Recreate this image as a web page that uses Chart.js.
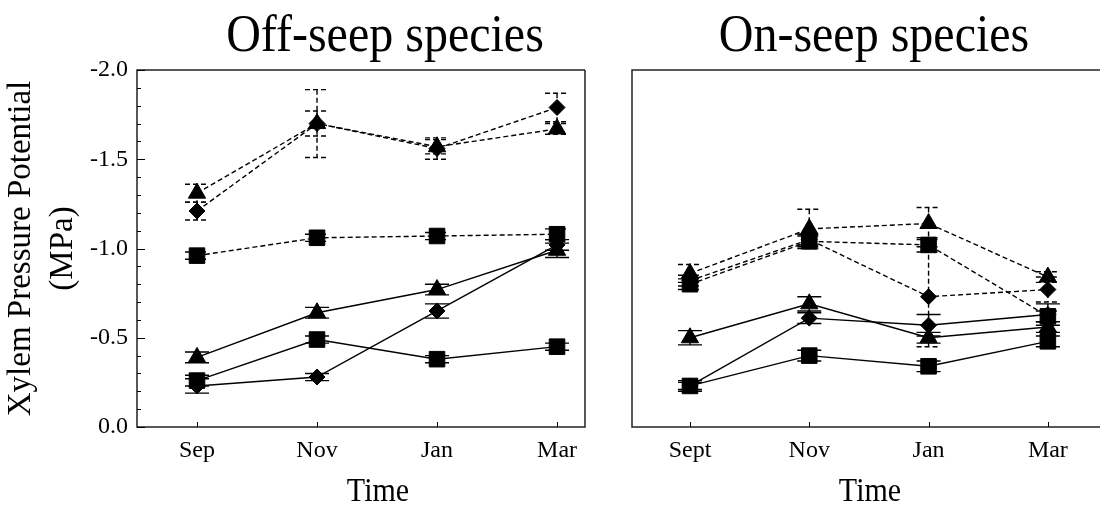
<!DOCTYPE html>
<html>
<head>
<meta charset="utf-8">
<title>Xylem Pressure Potential</title>
<script src="https://cdn.jsdelivr.net/npm/chart.js@4.4.1/dist/chart.umd.min.js"></script>
<style>
  html, body { margin: 0; padding: 0; background: #fff; overflow: hidden; }
  body { width: 1100px; height: 507px; position: relative; font-family: 'Liberation Serif', 'Times New Roman', serif; color: #000; }
  canvas { position: absolute; top: 0; }
  #offChart { left: 0; }
  #onChart { left: 600px; }
  .label { position: absolute; white-space: nowrap; line-height: 1; transform: translate(-50%, -50%) scaleY(1.1); }
  .heading { font-size: 48px; top: 33px; }
  .axis-title { font-size: 30px; top: 490px; }
</style>
</head>
<body>
<div class="label heading" style="left:385px">Off-seep species</div>
<div class="label heading" style="left:874px">On-seep species</div>
<canvas id="offChart" width="600" height="507"></canvas>
<canvas id="onChart" width="500" height="507"></canvas>
<div class="label axis-title" style="left:378px">Time</div>
<div class="label axis-title" style="left:870px">Time</div>

<script>
// ── Data ─────────────────────────────────────────────────────────
const offMonths = ['Sep', 'Nov', 'Jan', 'Mar'];
const onMonths  = ['Sept', 'Nov', 'Jan', 'Mar'];

// Off-seep species (MPa), mean and error
const offTriDashed    = [-1.31, -1.70, -1.57, -1.67];
const offTriDashedErr = [0.05, 0.07, 0.04, 0.03];
const offDiaDashed    = [-1.21, -1.70, -1.56, -1.79];
const offDiaDashedErr = [0.05, 0.19, 0.06, 0.08];
const offSqDashed     = [-0.96, -1.06, -1.07, -1.08];
const offSqDashedErr  = [0.02, 0.02, 0.02, 0.03];
const offTriSolid     = [-0.39, -0.64, -0.77, -0.99];
const offTriSolidErr  = [0.03, 0.03, 0.03, 0.04];
const offSqSolid      = [-0.26, -0.49, -0.38, -0.45];
const offSqSolidErr   = [0.03, 0.02, 0.02, 0.02];
const offDiaSolid     = [-0.23, -0.28, -0.65, -1.02];
const offDiaSolidErr  = [0.04, 0.02, 0.04, 0.03];

// On-seep species (MPa), mean and error
const onTriDashed    = [-0.86, -1.11, -1.14, -0.84];
const onTriDashedErr = [0.05, 0.11, 0.09, 0.03];
const onSqDashed     = [-0.80, -1.04, -1.02, -0.62];
const onSqDashedErr  = [0.03, 0.03, 0.04, 0.03];
const onDiaDashed    = [-0.82, -1.05, -0.73, -0.77];
const onDiaDashedErr = [0.03, 0.03, 0.28, 0.07];
const onTriSolid     = [-0.50, -0.69, -0.50, -0.56];
const onTriSolidErr  = [0.04, 0.04, 0.03, 0.03];
const onDiaSolid     = [-0.23, -0.61, -0.57, -0.63];
const onDiaSolidErr  = [0.02, 0.03, 0.06, 0.06];
const onSqSolid      = [-0.23, -0.40, -0.34, -0.48];
const onSqSolidErr   = [0.03, 0.03, 0.03, 0.03];

const yMin = -2.0, yMax = 0.0, yStep = 0.5, yMinorStep = 0.1;

const offSeries = [
  { values: offTriDashed, errors: offTriDashedErr, marker: 'triangle', dashed: true },
  { values: offDiaDashed, errors: offDiaDashedErr, marker: 'rectRot',  dashed: true },
  { values: offSqDashed,  errors: offSqDashedErr,  marker: 'rect',     dashed: true },
  { values: offTriSolid,  errors: offTriSolidErr,  marker: 'triangle', dashed: false },
  { values: offSqSolid,   errors: offSqSolidErr,   marker: 'rect',     dashed: false },
  { values: offDiaSolid,  errors: offDiaSolidErr,  marker: 'rectRot',  dashed: false },
];

const onSeries = [
  { values: onTriDashed, errors: onTriDashedErr, marker: 'triangle', dashed: true },
  { values: onSqDashed,  errors: onSqDashedErr,  marker: 'rect',     dashed: true },
  { values: onDiaDashed, errors: onDiaDashedErr, marker: 'rectRot',  dashed: true },
  { values: onTriSolid,  errors: onTriSolidErr,  marker: 'triangle', dashed: false },
  { values: onDiaSolid,  errors: onDiaSolidErr,  marker: 'rectRot',  dashed: false },
  { values: onSqSolid,   errors: onSqSolidErr,   marker: 'rect',     dashed: false },
];

// ── Styling ──────────────────────────────────────────────────────
const FONT = "'Liberation Serif', 'Times New Roman', serif";
const INK = '#000';
const DASH = [5, 3];
const MARKER_RADIUS = { triangle: 10, rect: 11, rectRot: 8 };
const CAP = 12;

// Whiskers drawn under the markers
const errorBars = {
  id: 'errorBars',
  beforeDatasetsDraw(chart) {
    const { ctx } = chart;
    const y = chart.scales.y;
    chart.data.datasets.forEach((ds, i) => {
      const meta = chart.getDatasetMeta(i);
      ctx.save();
      ctx.strokeStyle = INK;
      ctx.lineWidth = 1.4;
      ctx.setLineDash(ds.borderDash || []);
      meta.data.forEach((pt, j) => {
        const v = ds.data[j].y, e = ds.errors[j];
        const yHi = y.getPixelForValue(v - e);
        const yLo = y.getPixelForValue(v + e);
        ctx.beginPath();
        ctx.moveTo(pt.x, yHi); ctx.lineTo(pt.x, yLo);
        ctx.moveTo(pt.x - CAP, yHi); ctx.lineTo(pt.x + CAP, yHi);
        ctx.moveTo(pt.x - CAP, yLo); ctx.lineTo(pt.x + CAP, yLo);
        ctx.stroke();
      });
      ctx.restore();
    });
  }
};

// Frame around the plot area plus inward tick marks.
// The right-hand panel runs off the page, so it has no right edge.
const frame = {
  id: 'frame',
  afterDraw(chart, args, opts) {
    const { ctx, chartArea: a } = chart;
    const x = chart.scales.x, y = chart.scales.y;
    const right = opts.openRight ? chart.width : a.right;
    ctx.save();
    ctx.strokeStyle = '#222';
    ctx.lineWidth = 1.5;
    ctx.beginPath();
    ctx.moveTo(right, a.top);
    ctx.lineTo(a.left, a.top);
    ctx.lineTo(a.left, a.bottom);
    ctx.lineTo(right, a.bottom);
    if (!opts.openRight) ctx.lineTo(right, a.top);
    ctx.stroke();

    ctx.lineWidth = 1;
    ctx.strokeStyle = INK;
    ctx.beginPath();
    x.ticks.forEach(t => {
      const px = Math.round(x.getPixelForValue(t.value)) + 0.5;
      ctx.moveTo(px, a.bottom); ctx.lineTo(px, a.bottom - 5);
    });
    if (opts.yTicks) {
      for (let v = yMin; v <= yMax + 1e-9; v += yMinorStep) {
        const py = Math.round(y.getPixelForValue(v)) + 0.5;
        const major = Math.abs(v / yStep - Math.round(v / yStep)) < 1e-6;
        ctx.moveTo(a.left, py); ctx.lineTo(a.left + (major ? 8 : 4), py);
      }
    }
    ctx.stroke();
    ctx.restore();
  }
};

function buildPanel(canvasId, months, series, p) {
  const datasets = series.map(s => ({
    data: s.values.map((v, i) => ({ x: i, y: v })),
    errors: s.errors,
    borderColor: INK,
    backgroundColor: INK,
    borderWidth: 1.4,
    borderDash: s.dashed ? DASH : [],
    pointStyle: s.marker,
    pointRadius: MARKER_RADIUS[s.marker],
    pointBackgroundColor: INK,
    pointBorderColor: INK,
    pointBorderWidth: 1,
    tension: 0,
    fill: false,
    clip: false,
  }));

  return new Chart(document.getElementById(canvasId), {
    type: 'line',
    data: { datasets },
    plugins: [errorBars, frame],
    options: {
      responsive: false,
      animation: false,
      devicePixelRatio: 1,
      layout: {
        autoPadding: false,   // markers may overhang; keep the plot box where it is
        padding: { top: 70, right: p.padRight, left: 0, bottom: 0 },
      },
      plugins: {
        legend: { display: false },
        tooltip: { enabled: false },
        frame: { yTicks: p.showY, openRight: p.openRight },
      },
      scales: {
        x: {
          type: 'linear',
          min: p.xMin,
          max: p.xMax,
          afterBuildTicks: scale => { scale.ticks = months.map((_, i) => ({ value: i })); },
          afterFit: scale => {
            scale.height = 80;
            scale.paddingLeft = 0;
            scale.paddingRight = 0;
          },
          grid: { display: false, drawTicks: false },
          border: { display: false },
          ticks: {
            padding: 9,
            color: INK,
            font: { family: FONT, size: 24 },
            callback: v => months[v],
          },
        },
        y: {
          min: yMin,
          max: yMax,
          reverse: true,
          afterFit: scale => { scale.width = p.yWidth; },
          grid: { display: false, drawTicks: false },
          border: { display: false },
          ticks: {
            display: p.showY,
            stepSize: yStep,
            padding: 9,
            color: INK,
            font: { family: FONT, size: 24 },
            callback: v => v.toFixed(1),
          },
          title: {
            display: p.showY,
            text: ['Xylem Pressure Potential', '(MPa)'],
            color: INK,
            font: { family: FONT, size: 33, lineHeight: 1.27 },
            padding: { top: 0, bottom: 0 },
          },
        },
      },
    },
  });
}

buildPanel('offChart', offMonths, offSeries,
  { xMin: -0.5, xMax: 3.233, yWidth: 137, padRight: 15, showY: true, openRight: false });
// Plot area runs to the page edge, the range continues past Mar
buildPanel('onChart', onMonths, onSeries,
  { xMin: -0.486, xMax: 3.437, yWidth: 32, padRight: 0, showY: false, openRight: true });
</script>
</body>
</html>
